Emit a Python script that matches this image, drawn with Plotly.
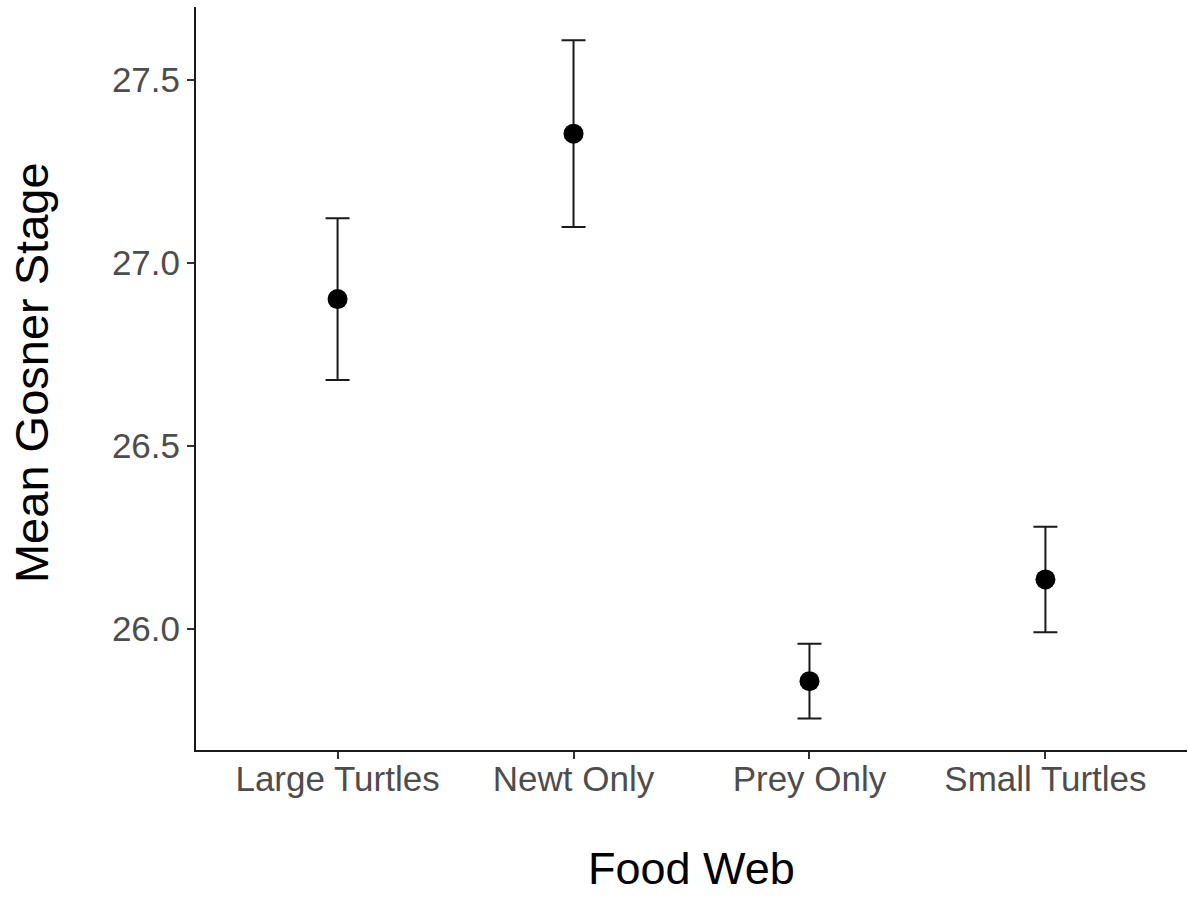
import plotly.graph_objects as go

# Mean Gosner developmental stage by food-web treatment (mean ± SE)
food_web = ["Large Turtles", "Newt Only", "Prey Only", "Small Turtles"]
mean_stage = [26.901, 27.353, 25.857, 26.135]
se_stage = [0.221, 0.255, 0.102, 0.144]

y_ticks = [26.0, 26.5, 27.0, 27.5]
y_tick_text = ["26.0", "26.5", "27.0", "27.5"]

FONT = "Liberation Sans, Arial, sans-serif"

fig = go.Figure()
fig.add_trace(go.Scatter(
    x=food_web,
    y=mean_stage,
    mode="markers",
    marker=dict(size=20, color="black"),
    error_y=dict(type="data", array=se_stage, symmetric=True,
                 color="#1a1a1a", thickness=2, width=12),
    showlegend=False,
))

fig.update_layout(
    width=1188, height=898,
    margin=dict(l=196, r=1, t=7, b=148),
    paper_bgcolor="white", plot_bgcolor="white",
    font=dict(family=FONT),
    xaxis=dict(
        type="category", range=[-0.6, 3.6],
        showgrid=False, zeroline=False,
        showline=True, linecolor="#1a1a1a", linewidth=2,
        ticks="outside", ticklen=7, tickwidth=1.5, tickcolor="#333333",
        tickfont=dict(size=35, color="#4d4d4d", family=FONT),
        ticklabelstandoff=-10,
    ),
    yaxis=dict(
        range=[25.669, 27.699],
        tickvals=y_ticks, ticktext=y_tick_text,
        showgrid=False, zeroline=False,
        showline=True, linecolor="#1a1a1a", linewidth=2,
        ticks="outside", ticklen=7, tickwidth=1.5, tickcolor="#333333",
        tickfont=dict(size=35, color="#4d4d4d", family=FONT),
        ticklabelstandoff=0,
    ),
    annotations=[
        dict(text="Food Web", xref="paper", yref="paper", x=0.5, y=-0.159,
             xanchor="center", yanchor="middle", showarrow=False,
             font=dict(size=45, color="black", family=FONT)),
        dict(text="Mean Gosner Stage", xref="paper", yref="paper",
             x=-0.166, y=0.508, xanchor="center", yanchor="middle",
             textangle=-90, showarrow=False,
             font=dict(size=47, color="black", family=FONT)),
    ],
)

fig.write_html("out.html")
